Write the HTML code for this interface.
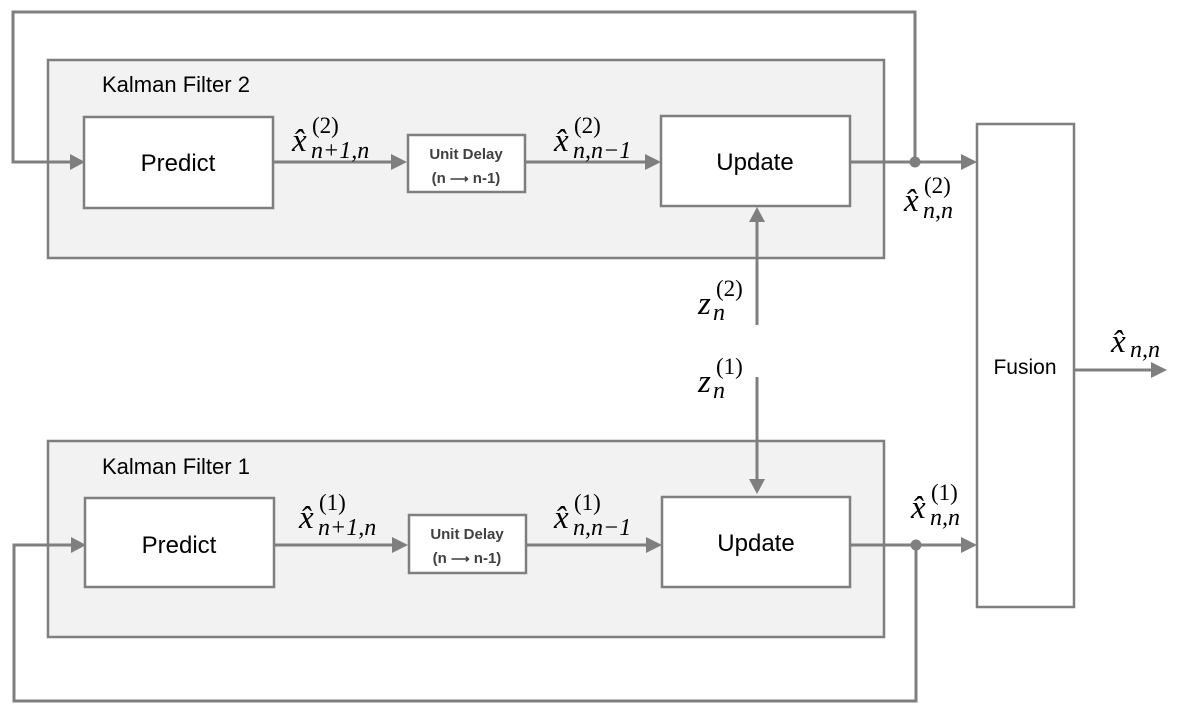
<!DOCTYPE html>
<html><head><meta charset="utf-8"><style>
html,body{margin:0;padding:0;background:#fff;}
svg{display:block;}
.s{font-family:"Liberation Sans",sans-serif;fill:#000;}
.m{font-family:"Liberation Serif",serif;font-style:italic;fill:#000;}
.u{font-family:"Liberation Serif",serif;fill:#000;}
</style></head><body>
<svg width="1177" height="713" viewBox="0 0 1177 713" xmlns="http://www.w3.org/2000/svg">
<g fill="#f2f2f2" stroke="#7f7f7f" stroke-width="2.5">
<rect x="48" y="60" width="836" height="198"/>
<rect x="48" y="441" width="836" height="196"/>
</g>
<g fill="#fff" stroke="#7f7f7f" stroke-width="2.5">
<rect x="84" y="117" width="189" height="91"/>
<rect x="408" y="135" width="117" height="57"/>
<rect x="661" y="116" width="189" height="90"/>
<rect x="85" y="498" width="189" height="89"/>
<rect x="409" y="515" width="117" height="58"/>
<rect x="662" y="497" width="188" height="90"/>
<rect x="977" y="124" width="97" height="483"/>
</g>
<g stroke="#7f7f7f" stroke-width="3" fill="none">
<path d="M915,162 V12 H13 V162 H70" />
<path d="M274,162 H394" />
<path d="M525,162 H647" />
<path d="M850,162 H963" />
<path d="M757,325 V222" />
<path d="M757,377 V480" />
<path d="M916,545 V701 H14 V545 H71" />
<path d="M274,545 H395" />
<path d="M526,545 H648" />
<path d="M850,545 H963" />
<path d="M1074,370 H1152" />
</g>
<g fill="#7f7f7f">
<path d="M70,154 L85,162 L70,170 z"/>
<path d="M391,154 L407,162 L391,170 z"/>
<path d="M645,154 L661,162 L645,170 z"/>
<path d="M961,154 L977,162 L961,170 z"/>
<path d="M749,222 L757,207 L765,222 z"/>
<path d="M749,479 L757,494 L765,479 z"/>
<path d="M71,537 L86,545 L71,553 z"/>
<path d="M392,537 L408,545 L392,553 z"/>
<path d="M646,537 L662,545 L646,553 z"/>
<path d="M961,537 L977,545 L961,553 z"/>
<path d="M1151,362 L1167,370 L1151,378 z"/>
<circle cx="915" cy="162" r="5.5"/>
<circle cx="916" cy="545" r="5.5"/>
</g>
<text class="s" x="102" y="92" font-size="22">Kalman Filter 2</text>
<text class="s" x="102" y="474" font-size="22">Kalman Filter 1</text>
<text class="s" x="178" y="171" font-size="24" text-anchor="middle">Predict</text>
<text class="s" x="179" y="553" font-size="24" text-anchor="middle">Predict</text>
<text class="s" x="755" y="170" font-size="24" text-anchor="middle">Update</text>
<text class="s" x="756" y="551" font-size="24" text-anchor="middle">Update</text>
<text class="s" x="1025" y="374" font-size="21" text-anchor="middle">Fusion</text>
<g class="s" font-size="15" font-weight="bold" text-anchor="middle">
<text x="466" y="159" style="fill:#404040">Unit Delay</text>
<text x="466" y="183" style="fill:#404040">(n <tspan font-size="13">⟶</tspan> n-1)</text>
<text x="467" y="539" style="fill:#404040">Unit Delay</text>
<text x="467" y="563" style="fill:#404040">(n <tspan font-size="13">⟶</tspan> n-1)</text>
</g>
<g>
<text class="m" x="292" y="151" font-size="33">x̂</text><text class="u" x="312" y="133" font-size="23">(2)</text><text class="m" x="311" y="158" font-size="24">n+1,n</text>
<text class="m" x="554" y="151" font-size="33">x̂</text><text class="u" x="574" y="133" font-size="23">(2)</text><text class="m" x="573" y="158" font-size="24">n,n−1</text>
<text class="m" x="904" y="211" font-size="33">x̂</text><text class="u" x="924" y="193" font-size="23">(2)</text><text class="m" x="923" y="218" font-size="24">n,n</text>
<text class="m" x="698" y="314" font-size="33">z</text><text class="u" x="716" y="296" font-size="23">(2)</text><text class="m" x="713" y="320" font-size="24">n</text>
<text class="m" x="698" y="392" font-size="33">z</text><text class="u" x="716" y="374" font-size="23">(1)</text><text class="m" x="713" y="398" font-size="24">n</text>
<text class="m" x="299" y="528" font-size="33">x̂</text><text class="u" x="319" y="510" font-size="23">(1)</text><text class="m" x="318" y="535" font-size="24">n+1,n</text>
<text class="m" x="554" y="528" font-size="33">x̂</text><text class="u" x="574" y="510" font-size="23">(1)</text><text class="m" x="573" y="535" font-size="24">n,n−1</text>
<text class="m" x="911" y="518" font-size="33">x̂</text><text class="u" x="931" y="500" font-size="23">(1)</text><text class="m" x="930" y="525" font-size="24">n,n</text>
<text class="m" x="1111" y="352" font-size="33">x̂</text><text class="m" x="1130" y="357" font-size="24">n,n</text>
</g>
</svg>
</body></html>
